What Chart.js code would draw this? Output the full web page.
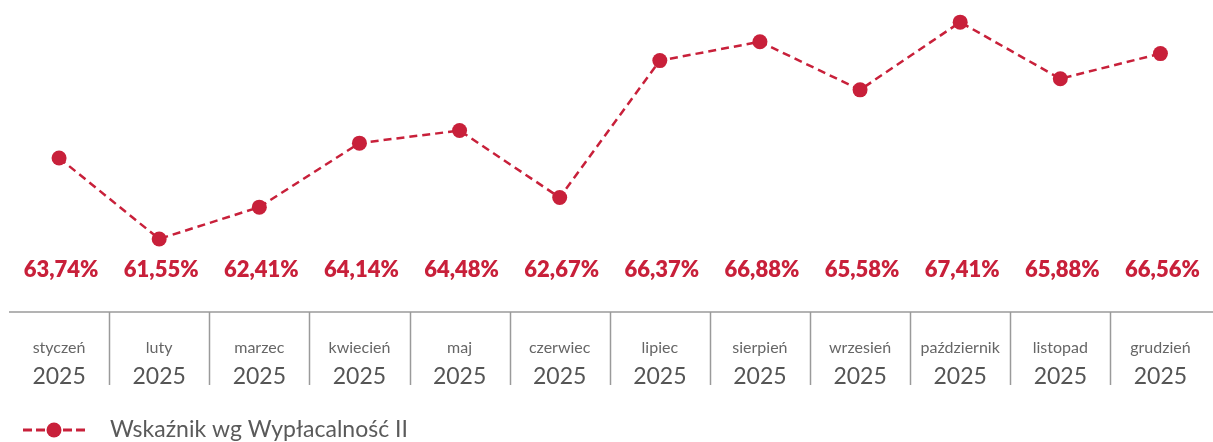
<!DOCTYPE html>
<html>
<head>
<meta charset="utf-8">
<script src="https://cdn.jsdelivr.net/npm/chart.js@4.4.1/dist/chart.umd.min.js"></script>
<style>
    html, body { margin: 0; padding: 0; background: #fff; overflow: hidden; }
</style>
</head>
<body>
<canvas id="myChart" width="1218" height="442"></canvas>
<script>
const months = ['styczeń', 'luty', 'marzec', 'kwiecień', 'maj', 'czerwiec', 'lipiec', 'sierpień', 'wrzesień', 'październik', 'listopad', 'grudzień'];
const years = ['2025', '2025', '2025', '2025', '2025', '2025', '2025', '2025', '2025', '2025', '2025', '2025'];
const values = [63.74, 61.55, 62.41, 64.14, 64.48, 62.67, 66.37, 66.88, 65.58, 67.41, 65.88, 66.56];
const seriesName = 'Wskaźnik wg Wypłacalność II';

const red = '#c8203a';
const fontName = 'Lato, "Open Sans", sans-serif';

const formatValue = (v) => v.toFixed(2).replace('.', ',') + '%';

// x axis drawn as a table row: line, separators, month + year
const tableAxis = {
    id: 'tableAxis',
    afterDraw(chart) {
        const { ctx, chartArea, scales } = chart;
        const x = scales.x;
        const step = x.getPixelForValue(1) - x.getPixelForValue(0);
        const top = chartArea.bottom;

        ctx.save();
        ctx.strokeStyle = '#9a9a9a';
        ctx.lineWidth = 1.5;
        ctx.beginPath();
        ctx.moveTo(chartArea.left, top);
        ctx.lineTo(chart.width, top);
        for (let i = 0; i < months.length - 1; i++) {
            const px = Math.round(x.getPixelForValue(i) + step / 2) + 0.5;
            ctx.moveTo(px, top);
            ctx.lineTo(px, top + 73);
        }
        ctx.stroke();

        ctx.textAlign = 'center';
        ctx.textBaseline = 'alphabetic';
        months.forEach((m, i) => {
            const px = x.getPixelForValue(i);
            ctx.fillStyle = '#666666';
            ctx.font = '400 16px ' + fontName;
            ctx.fillText(m, px, top + 41);
            ctx.fillStyle = '#555555';
            ctx.font = '400 23px ' + fontName;
            ctx.fillText(years[i], px, top + 72);
        });

        // legend
        const ly = 430;
        ctx.strokeStyle = red;
        ctx.lineWidth = 3;
        ctx.setLineDash([9, 4]);
        ctx.beginPath();
        ctx.moveTo(23, ly);
        ctx.lineTo(46, ly);
        ctx.moveTo(63, ly);
        ctx.lineTo(86, ly);
        ctx.stroke();
        ctx.setLineDash([]);
        ctx.fillStyle = red;
        ctx.beginPath();
        ctx.arc(54, ly, 7.5, 0, Math.PI * 2);
        ctx.fill();
        ctx.fillStyle = '#5a5a5a';
        ctx.textAlign = 'left';
        ctx.textBaseline = 'middle';
        ctx.font = '400 23px ' + fontName;
        ctx.fillText(seriesName, 110, ly);
        ctx.restore();
    }
};

// value row under the line
const valueRow = {
    id: 'valueRow',
    afterDatasetsDraw(chart) {
        const { ctx, scales } = chart;
        ctx.save();
        ctx.fillStyle = red;
        ctx.font = '800 22px ' + fontName;
        ctx.textAlign = 'center';
        ctx.textBaseline = 'middle';
        values.forEach((v, i) => {
            ctx.fillText(formatValue(v), scales.x.getPixelForValue(i) + 2, 270);
        });
        ctx.restore();
    }
};

const ctx = document.querySelector('#myChart');

new Chart(ctx, {
    type: 'line',
    data: {
        labels: months,
        datasets: [{
            label: seriesName,
            data: values,
            borderColor: red,
            backgroundColor: red,
            borderWidth: 2.5,
            borderDash: [8, 5],
            pointRadius: 7.5,
            pointHoverRadius: 7.5,
            pointBackgroundColor: red,
            pointBorderWidth: 0,
            tension: 0,
            clip: false
        }]
    },
    options: {
        responsive: false,
        animation: false,
        layout: {
            padding: { left: 9, right: 0, top: 10, bottom: 130 }
        },
        plugins: {
            legend: { display: false },
            tooltip: { enabled: false }
        },
        scales: {
            x: {
                display: false,
                offset: true
            },
            y: {
                display: false,
                min: 59.576,
                max: 67.738
            }
        }
    },
    plugins: [tableAxis, valueRow]
});
</script>
</body>
</html>
